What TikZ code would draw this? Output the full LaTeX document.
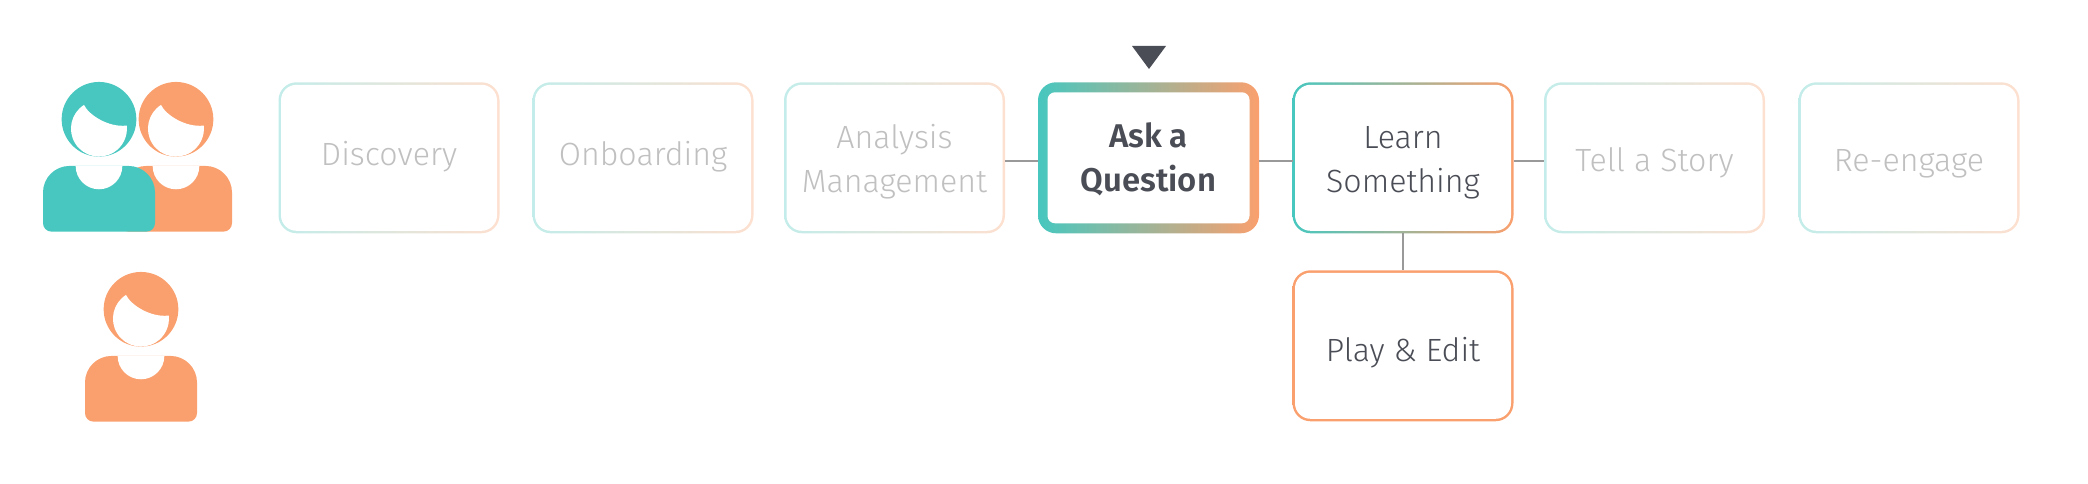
\documentclass[tikz,border=0pt]{standalone}
\usepackage{fontspec}
\setmainfont{Fira Sans Light}[BoldFont={Fira Sans SemiBold}]
\definecolor{teal_c}{HTML}{47C7BF}
\definecolor{orange_c}{HTML}{FAA06E}
\definecolor{ink}{HTML}{4A4D55}
\definecolor{link}{HTML}{999999}
\definecolor{ghost}{HTML}{C0C0C0}
\tikzset{
  person/.pic={
    \fill[#1] (0,0) circle (0.747);
    \fill[#1] (-1.12,-2.077) -- (-1.12,-1.463) arc (180:90:0.53) -- (0.59,-0.933) arc (90:0:0.53)
      -- (1.12,-2.077) arc (0:-90:0.17) -- (-0.95,-2.247) arc (-90:-180:0.17) -- cycle;
    \fill[white] (-0.3,0.287) arc [start angle=122.3, end angle=366.3, radius=0.56]
      .. controls (0.2,-0.17) and (-0.2,0.08) .. cycle;
    \fill[white] (-0.467,-0.933) arc [start angle=180, end angle=360, radius=0.467] -- cycle;
  }
}
\begin{document}
\begin{tikzpicture}
  \tikzstyle{frame} = [rectangle, rounded corners = 3.6mm, inner sep = 0, outer sep = 0, minimum height = 30.2mm, minimum width = 44.2mm, left color = teal_c, right color = orange_c]
  \tikzstyle{frame_faded} = [frame, left color = teal_c!33, right color = orange_c!33]
  \tikzstyle{frame_play} = [frame, left color = orange_c, right color = orange_c]
  \tikzstyle{face} = [rectangle, rounded corners = 3.1mm, fill = white, align = center, inner sep = 0, minimum height = 29.2mm, minimum width = 43.2mm, font = \fontsize{18.3}{24.9}\selectfont, text = ink, execute at begin node = {\rule{0pt}{19pt}}]
  \tikzstyle{face_faded} = [face, text = ghost]
  \tikzstyle{face_bold} = [face, rounded corners = 1.5mm, minimum height = 26.2mm, minimum width = 40.4mm, font = \fontsize{18.7}{24.9}\selectfont\bfseries]
  \tikzstyle{wire} = [-, draw = link, line width = 0.035cm]

  \useasboundingbox (0,0) rectangle (41.76,9.68);

  \pic at (3.52,7.294) {person=orange_c};
  \pic at (1.98,7.294) {person=teal_c};
  \pic at (2.82,3.494) {person=orange_c};

  \node [frame_faded] at (7.78,6.524) (discovery) {};
  \node [face_faded] at (discovery) (discovery_face) {\raisebox{5pt}{Discovery}};
  \node [frame_faded] at (12.86,6.524) (onboarding) {};
  \node [face_faded] at (onboarding) (onboarding_face) {\raisebox{5pt}{Onboarding}};
  \node [frame_faded] at (17.89,6.524) (analysis) {};
  \node [face_faded] at (analysis) (analysis_face) {\rule{0pt}{18pt}Analysis\\Management};
  \node [frame] at (22.97,6.524) (ask) {};
  \node [face_bold] at (ask) (ask_face) {\rule{0pt}{16pt}Ask a\\Question};
  \node [frame] at (28.06,6.524) (learn) {};
  \node [face] at (learn) (learn_face) {\rule{0pt}{18pt}Learn\\Something};
  \node [frame_faded] at (33.09,6.524) (tell) {};
  \node [face_faded] at (tell) (tell_face) {Tell a Story};
  \node [frame_faded] at (38.18,6.524) (reengage) {};
  \node [face_faded] at (reengage) (reengage_face) {Re-engage};
  \node [frame_play] at (28.06,2.764) (play) {};
  \node [face] at (play) (play_face) {\raisebox{-3pt}{Play \& Edit}};

  \fill[ink] (22.64,8.76) -- (23.32,8.76) -- (22.98,8.30) -- cycle;

  \draw[wire] ([yshift=-0.6mm]analysis.east) to ([yshift=-0.6mm]ask.west);
  \draw[wire] ([yshift=-0.6mm]ask.east) to ([yshift=-0.6mm]learn.west);
  \draw[wire] ([yshift=-0.6mm]learn.east) to ([yshift=-0.6mm]tell.west);
  \draw[wire] (learn.south) to (play.north);
\end{tikzpicture}
\end{document}
